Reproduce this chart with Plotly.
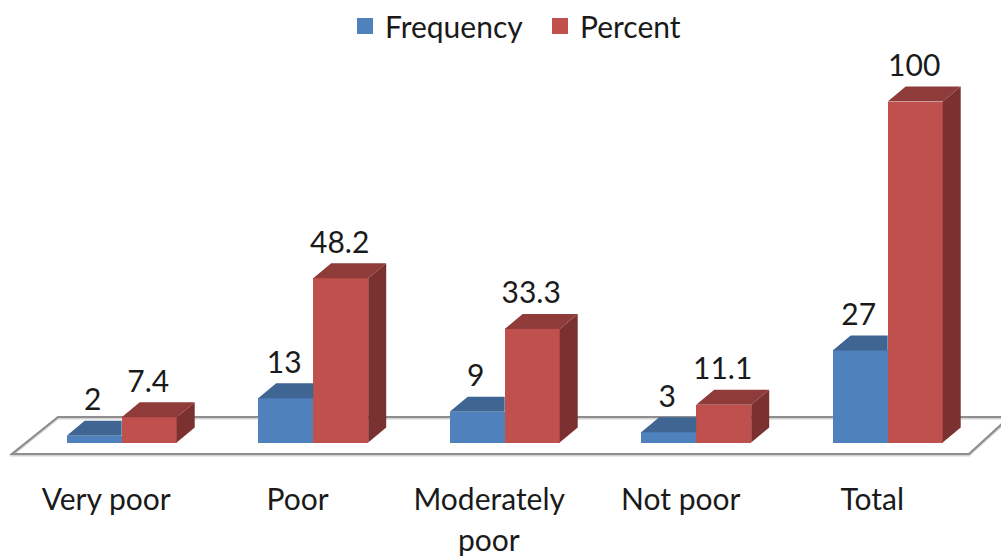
import plotly.graph_objects as go

categories = ["Very poor", "Poor", "Moderately", "Not poor", "Total"]
category_second_line = "poor"
frequency = [2, 13, 9, 3, 27]
percent = [7.4, 48.2, 33.3, 11.1, 100]
series_names = ["Frequency", "Percent"]

W, H = 1001, 556
PLOT_BOTTOM = 472
ZERO_PX, Y_SCALE = 442.5, 3.41
X0_PX, X_SCALE = 121.7, 191.5
BAR = 55 / X_SCALE
DX, DY = 18 / X_SCALE, 15 / Y_SCALE
LABEL_SHIFT = 15.5 / X_SCALE
FONT = "Lato"
FS = 30
INK = "#1a1a1a"

xs = list(range(len(categories)))


def faces(pts_fn, values):
    x, y = [], []
    for i, v in zip(xs, values):
        for px, py in pts_fn(i, v):
            x.append(px)
            y.append(py)
        x.append(None)
        y.append(None)
    return x, y


def top_freq(i, v):
    l, r = i - BAR, i
    return [(l, v), (l + DX, v + DY), (r, v + DY), (r, v), (l, v)]


def top_pct(i, v):
    l, r = i, i + BAR
    return [(l, v), (l + DX, v + DY), (r + DX, v + DY), (r, v), (l, v)]


def side_pct(i, v):
    r = i + BAR
    return [(r, 0), (r + DX, DY), (r + DX, v + DY), (r, v), (r, 0)]


fig = go.Figure()


def poly(pts_fn, values, color):
    x, y = faces(pts_fn, values)
    fig.add_trace(go.Scatter(x=x, y=y, mode="lines", fill="toself", fillcolor=color,
                             line=dict(width=0, color=color), hoverinfo="skip", showlegend=False))


fig.add_trace(go.Bar(x=[i - BAR / 2 for i in xs], y=frequency, width=BAR, marker=dict(color="#4F81BD", line_width=0),
                     showlegend=False))
fig.add_trace(go.Bar(x=[i + BAR / 2 for i in xs], y=percent, width=BAR, marker=dict(color="#C0504D", line_width=0),
                     showlegend=False))
poly(top_freq, frequency, "#3F6592")
poly(side_pct, percent, "#7A312F")
poly(top_pct, percent, "#8F3B39")

fig.add_trace(go.Scatter(x=[i - BAR / 2 - 1.5 / X_SCALE for i in xs], y=[v + DY + 18 / Y_SCALE for v in frequency],
                         mode="text", text=[str(v) for v in frequency], textposition="middle center",
                         textfont=dict(family=FONT, size=FS, color=INK), showlegend=False, hoverinfo="skip"))
fig.add_trace(go.Scatter(x=[i + BAR / 2 - 1 / X_SCALE for i in xs], y=[v + DY + 18 / Y_SCALE for v in percent],
                         mode="text", text=[str(v) for v in percent], textposition="middle center",
                         textfont=dict(family=FONT, size=FS, color=INK), showlegend=False, hoverinfo="skip"))

# legend keys
for name, col in zip(series_names, ["#4F81BD", "#C0504D"]):
    fig.add_trace(go.Scatter(x=[None], y=[None], mode="markers", name=name,
                             marker=dict(symbol="square", size=16, color=col)))

x_range = [-X0_PX / X_SCALE, (W - X0_PX) / X_SCALE]
y_range = [(ZERO_PX - PLOT_BOTTOM) / Y_SCALE, ZERO_PX / Y_SCALE]


def fx(px):
    return (px - X0_PX) / X_SCALE


def fy(px):
    return (ZERO_PX - px) / Y_SCALE


floor_pts = [(1003, 417), (58, 417), (12, 454), (969, 454), (1003, 423)]
for offset, color, width in [(1.5, "#d4d4d4", 2), (0, "#8e8e8e", 2.2)]:
    path = "M " + " L ".join(f"{fx(a)},{fy(b + offset)}" for a, b in floor_pts)
    fig.add_shape(type="path", path=path, xref="x", yref="y", layer="below",
                  line=dict(color=color, width=width))

fig.add_annotation(x=2 - LABEL_SHIFT, y=0, xref="x", yref="paper", yanchor="middle", showarrow=False,
                   yshift=-(539 - PLOT_BOTTOM), text=category_second_line,
                   font=dict(family=FONT, size=FS, color=INK))

fig.update_layout(
    width=W, height=H, autosize=False,
    margin=dict(l=0, r=0, t=0, b=H - PLOT_BOTTOM, autoexpand=False),
    paper_bgcolor="white", plot_bgcolor="rgba(0,0,0,0)",
    bargap=0,
    font=dict(family=FONT, size=FS, color=INK),
    showlegend=True,
    legend=dict(orientation="h", x=345 / W, xanchor="left", y=1, yanchor="top",
                font=dict(family=FONT, size=FS, color=INK), bgcolor="rgba(0,0,0,0)",
                entrywidth=150, entrywidthmode="pixels", itemclick=False, itemdoubleclick=False),
    xaxis=dict(range=x_range, tickmode="array", tickvals=[i - LABEL_SHIFT for i in xs], ticktext=categories,
               showgrid=False, zeroline=False, showline=False, ticks="", ticklabelstandoff=7,
               tickfont=dict(family=FONT, size=FS, color=INK)),
    yaxis=dict(range=y_range, visible=False, showgrid=False, zeroline=False),
)
fig.write_html("out.html", config={"displayModeBar": False}, post_script="document.body.style.margin='0';")
